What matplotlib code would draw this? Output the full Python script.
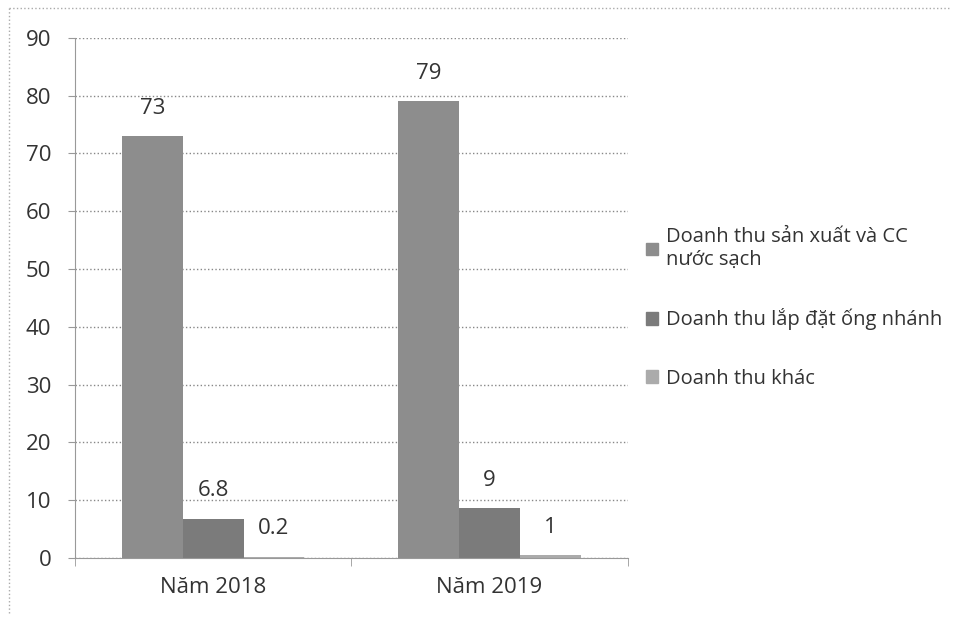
import matplotlib.pyplot as plt
import matplotlib.patches as mpatches
import numpy as np

plt.rcParams['font.family'] = ['Open Sans', 'DejaVu Sans']

# data
categories = ['Năm 2018', 'Năm 2019']
series_names = ['Doanh thu sản xuất và CC\nnước sạch',
                'Doanh thu lắp đặt ống nhánh',
                'Doanh thu khác']
heights = [[73, 79], [6.8, 8.6], [0.2, 0.5]]
labels = [['73', '79'], ['6.8', '9'], ['0.2', '1']]
colors = ['#8d8d8d', '#7b7b7b', '#ababab']

fig = plt.figure(figsize=(9.56, 6.22), dpi=100)
ax = fig.add_axes([0.0785, 0.103, 0.578, 0.836])

x = np.arange(len(categories))
w = 0.22
handles = []
for i, (h, lab, c) in enumerate(zip(heights, labels, colors)):
    pos = x + (i - 1) * w
    bars = ax.bar(pos, h, width=w, color=c, zorder=2)
    handles.append(mpatches.Patch(color=c, label=series_names[i]))
    for b, t in zip(bars, lab):
        ax.text(b.get_x() + b.get_width() / 2, b.get_height() + 3, t,
                ha='center', va='bottom', fontsize=16, color='#333333')

ax.set_xlim(-0.5, 1.5)
ax.set_ylim(0, 90)
ax.set_yticks(range(0, 91, 10))
ax.set_xticks(x)
ax.set_xticklabels(categories)
ax.set_xticks([-0.5, 0.5, 1.5], minor=True)
ax.tick_params(axis='x', which='major', length=0, pad=14, labelsize=16, colors='#333333')
ax.tick_params(axis='x', which='minor', length=6, color='#999999')
ax.tick_params(axis='y', length=5, color='#999999', labelsize=16, labelcolor='#333333', pad=12)

ax.grid(axis='y', linestyle=':', color='#888888', linewidth=1, zorder=0)
for s in ['top', 'right']:
    ax.spines[s].set_visible(False)
ax.spines['left'].set_color('#999999')
ax.spines['bottom'].set_color('#999999')

fig.legend(handles=handles, loc='center left', bbox_to_anchor=(0.657, 0.505),
           frameon=False, fontsize=14.5, labelspacing=1.9, handlelength=0.6,
           handleheight=0.6, handletextpad=0.4, labelcolor='#333333')

# outer chart border
fig.add_artist(plt.Line2D([0.009, 0.009], [0.015, 0.987], color='#aaaaaa',
                          linestyle=':', linewidth=1, transform=fig.transFigure))
fig.add_artist(plt.Line2D([0.009, 0.995], [0.987, 0.987], color='#aaaaaa',
                          linestyle=':', linewidth=1, transform=fig.transFigure))

fig.savefig('out.png', dpi=100)
